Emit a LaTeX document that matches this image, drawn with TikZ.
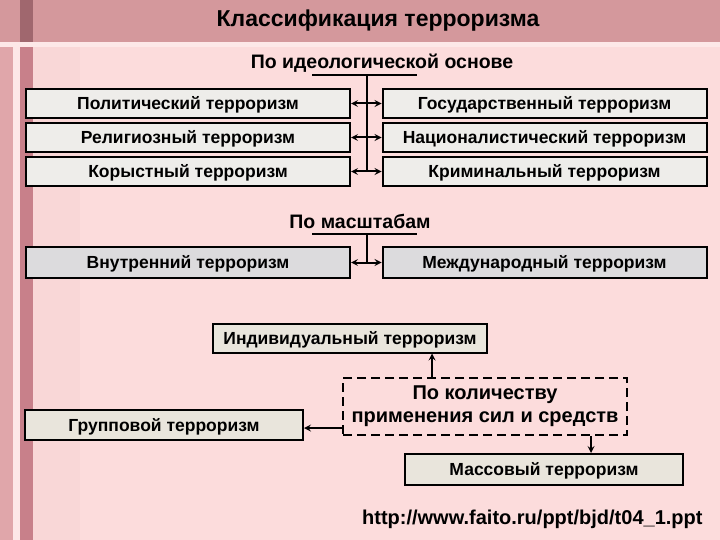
\documentclass[tikz,border=0pt]{standalone}
\usepackage{fontspec}
\setmainfont{Liberation Sans}
\usepackage{tikz}
\usetikzlibrary{positioning}
\usetikzlibrary{arrows}

\definecolor{bgpink}{HTML}{FCDCDC}
\definecolor{bandpink}{HTML}{D4989C}
\definecolor{barpink}{HTML}{C8808A}
\definecolor{sidepink}{HTML}{E0A6AA}
\definecolor{rowgrey}{HTML}{EEEDEA}
\definecolor{scalegrey}{HTML}{DCDBDD}
\definecolor{beige}{HTML}{E9E5DC}

\begin{document}
\begin{tikzpicture}[x=1pt, y=-1pt,
	box/.style={draw=black, line width=2pt, inner sep=0pt, text height=12.5pt, text depth=0pt, font=\fontsize{17.5}{20}\selectfont\bfseries},
	rowbox/.style={box, fill=rowgrey, minimum width=324pt, minimum height=29pt},
	scalebox/.style={box, fill=scalegrey, minimum width=324pt, minimum height=31pt},
	qbox/.style={box, fill=beige, minimum height=29pt},
	head/.style={font=\fontsize{19.5}{22}\selectfont\bfseries},
	line/.style={draw=black, line width=2pt},
	arrow/.style={line, -stealth},
	darrow/.style={line, stealth-stealth}
]
\useasboundingbox (0,0) rectangle (720,540);

% Background
\fill[bgpink] (0,0) rectangle (720,540);
\fill[sidepink] (0,0) rectangle (13,540);
\fill[white!30!bgpink] (13,0) rectangle (20,540);
\fill[barpink] (20,0) rectangle (33,540);
\fill[bgpink!90!sidepink] (33,0) rectangle (80,540);
\fill[bandpink] (0,0) rectangle (720,42);
\fill[barpink!80!black] (20,0) rectangle (33,42);
\fill[white!35!bgpink] (0,42) rectangle (720,47);

% Title
\node[font=\fontsize{23}{26}\selectfont\bfseries] (title) at (378,21) {Классификация терроризма};

% By ideology
\node[head] (ideo) at (382,63) {По идеологической основе};
\coordinate (ulA) at (312,75);
\coordinate (ulB) at (417,75);
\coordinate (ulC) at (367,75);
\draw[line] (ulA) -- (ulB);

\node[rowbox] (pol) at (188,103.5) {Политический терроризм};
\node[rowbox] (rel) at (188,137.5) {Религиозный терроризм};
\node[rowbox] (kor) at (188,171.5) {Корыстный терроризм};
\node[rowbox] (gos) at (544.5,103.5) {Государственный терроризм};
\node[rowbox] (nat) at (544.5,137.5) {Националистический терроризм};
\node[rowbox] (kri) at (544.5,171.5) {Криминальный терроризм};

\draw[darrow] (pol) -- (gos);
\draw[darrow] (rel) -- (nat);
\draw[darrow] (kor) -- (kri);
\draw[line] (ulC) -- (ulC |- kor.east);

% By scale
\node[head] (scale) at (360,221) {По масштабам};
\coordinate (usA) at (312,234);
\coordinate (usB) at (417,234);
\coordinate (usC) at (367,234);
\draw[line] (usA) -- (usB);

\node[scalebox] (vnu) at (188,262.5) {Внутренний терроризм};
\node[scalebox] (mez) at (544.5,262.5) {Международный терроризм};
\draw[darrow] (vnu) -- (mez);
\draw[line] (usC) -- (usC |- vnu.east);

% By quantity
\node[qbox, minimum width=274pt] (ind) at (350,338) {Индивидуальный терроризм};
\node[box, dashed, dash pattern=on 9pt off 5pt, minimum width=284pt, minimum height=57pt, align=center, text height=, text depth=, font=\fontsize{20}{23}\selectfont\bfseries] (qty) at (485,406.5) {По количеству\\применения сил и средств};
\node[qbox, minimum width=278pt, minimum height=30pt] (grp) at (164,425) {Групповой терроризм};
\node[qbox, minimum width=278pt, minimum height=31pt] (mas) at (544,469.5) {Массовый терроризм};

\draw[arrow] ([xshift=90pt]qty.north west) -- ([xshift=90pt]qty.north west |- ind.south);
\draw[arrow] ([yshift=-21.5pt]qty.west) -- ([yshift=-21.5pt]qty.west -| grp.east);
\draw[arrow] ([xshift=249pt]qty.south west) -- ([xshift=249pt]qty.south west |- mas.north);

% Source
\node[font=\fontsize{20}{23}\selectfont\bfseries, anchor=east] (src) at (706,519) {http://www.faito.ru/ppt/bjd/t04\_1.ppt};

\end{tikzpicture}
\end{document}
